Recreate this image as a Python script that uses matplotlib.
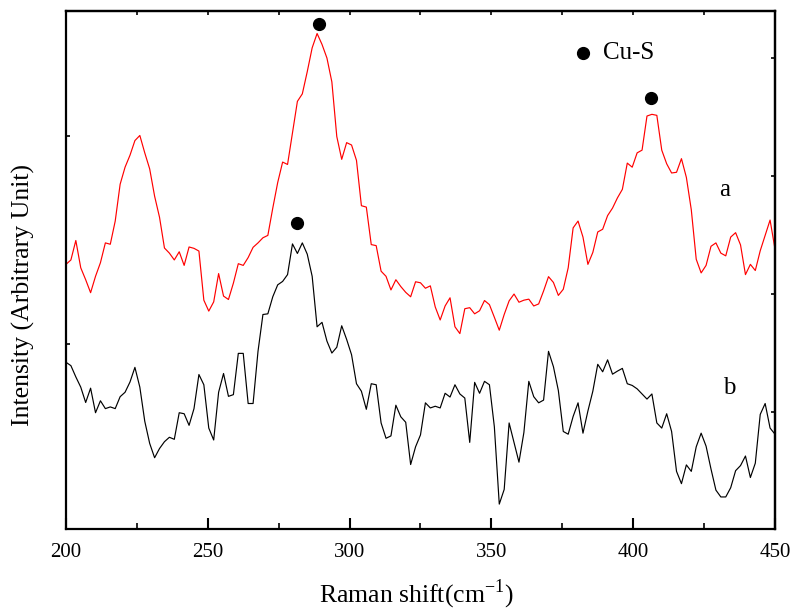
import matplotlib
matplotlib.use('Agg')
import matplotlib.pyplot as plt
from matplotlib.ticker import MultipleLocator, NullFormatter
import numpy as npy

#--------------------------------------------------------------#
# Dados lidos do espectro Raman (intensidade em unidade arbitrária)
raman_shift = npy.linspace(200, 450, 145)

amostra_a = [
    776, 789, 846, 766, 731, 693, 741, 781, 839, 835, 903, 1011, 1061, 1096, 1139, 1154, 1103, 1056, 976, 914,
    824, 809, 789, 813, 773, 827, 823, 815, 671, 639, 666, 749, 683, 673, 721, 778, 773,
    796, 826, 839, 854, 861, 941, 1016, 1076, 1069, 1161, 1254, 1276, 1341, 1411, 1453, 1421, 1381, 1311, 1151,
    1084, 1133, 1126, 1081, 948, 944, 834, 831, 756, 741, 701, 731, 711, 694, 681, 725,
    722, 706, 713, 651, 613, 654, 678, 593, 573, 646, 649, 631, 640, 670, 658, 621, 583, 629, 669, 689,
    665, 671, 674, 654, 660, 698, 740, 723, 685, 703, 766, 883, 903, 856, 776, 811,
    871, 879, 919, 941, 971, 996, 1073, 1061, 1103, 1111, 1211, 1216, 1213, 1111, 1071, 1044, 1046, 1086, 1031, 936,
    791, 751, 773, 829, 839, 809, 801, 856, 869, 833, 746, 776, 758, 816, 861, 906, 821]

amostra_b = [
    489, 479, 446, 416, 371, 413, 341, 376, 353, 358, 353, 388, 401, 431, 474, 416, 316, 251, 209, 236,
    256, 269, 263, 341, 338, 304, 353, 453, 423, 296, 261, 401, 456, 389, 394, 515, 515,
    368, 368, 521, 629, 631, 681, 716, 726, 746, 836, 808, 839, 806, 741, 593, 606, 551, 516, 533,
    596, 556, 511, 426, 404, 351, 426, 423, 311, 266, 273, 363, 329, 313, 189, 241,
    276, 370, 355, 360, 355, 398, 387, 423, 396, 384, 254, 430, 398, 433, 423, 300, 73, 116, 311, 253,
    196, 283, 433, 388, 370, 378, 521, 476, 406, 286, 278, 330, 370, 281, 346, 404,
    483, 461, 496, 454, 463, 471, 426, 421, 411, 396, 381, 396, 311, 296, 338, 286, 169, 133, 188, 169,
    241, 281, 243, 176, 114, 94, 94, 121, 171, 186, 214, 151, 193, 336, 368, 296, 278]

# picos Cu-S marcados e a legenda
picos_x = [289.2, 281.5, 406.3]
picos_y = [1481, 898, 1264]
legenda_x, legenda_y = 382.3, 1396

# marcas do eixo y (sem rótulos)
ticks_esq = [543, 1153]
ticks_dir = [343, 688, 1034, 1380]

#--------------------------------------------------------------#
plt.rcParams['font.family'] = 'Liberation Serif'
plt.rcParams['mathtext.fontset'] = 'custom'
plt.rcParams['mathtext.rm'] = 'Liberation Serif'

fig = plt.figure(figsize=(7.93, 6.11), dpi=100)
ax = fig.add_axes([0.0832, 0.1342, 0.8941, 0.8478])

ax.plot(raman_shift, amostra_a, color='red', lw=0.85)
ax.plot(raman_shift, amostra_b, color='black', lw=0.85)

ax.plot(picos_x, picos_y, 'o', color='black', ms=8.5)
ax.plot([legenda_x], [legenda_y], 'o', color='black', ms=8.5)
ax.text(389.3, legenda_y, 'Cu-S', fontsize=18, va='center', ha='left')
ax.text(432.4, 994, 'a', fontsize=18, va='center', ha='center')
ax.text(433.8, 414, 'b', fontsize=18, va='center', ha='center')

ax.set_xlim(200, 450)
ax.set_ylim(0, 1519)

ax.xaxis.set_major_locator(MultipleLocator(50))
ax.xaxis.set_minor_locator(MultipleLocator(25))
ax.tick_params(axis='x', which='major', direction='in', length=8, width=1.5, labelsize=15, pad=10)
ax.tick_params(axis='x', which='minor', direction='in', length=4.5, width=1.2)
ax.set_yticks(ticks_esq)
ax.yaxis.set_major_formatter(NullFormatter())
ax.tick_params(axis='y', direction='in', length=3, width=1.2)

# eixos secundários so para as marcas
topo = ax.secondary_xaxis('top')
topo.xaxis.set_major_locator(MultipleLocator(25))
topo.xaxis.set_major_formatter(NullFormatter())
topo.tick_params(direction='in', length=3, width=1.2)

direita = ax.secondary_yaxis('right')
direita.set_yticks(ticks_dir)
direita.yaxis.set_major_formatter(NullFormatter())
direita.tick_params(direction='in', length=3, width=1.2)

for s in list(ax.spines.values()) + [topo.spines['top'], direita.spines['right']]:
    s.set_linewidth(1.6)

ax.set_xlabel(r'Raman shift(cm$^{\mathregular{-1}}$)', fontsize=18.5)
ax.set_ylabel('Intensity (Arbitrary Unit)', fontsize=18.5)
ax.xaxis.set_label_coords(0.494, -0.094)
ax.yaxis.set_label_coords(-0.044, 0.452)

fig.savefig('out.png', dpi=100)
